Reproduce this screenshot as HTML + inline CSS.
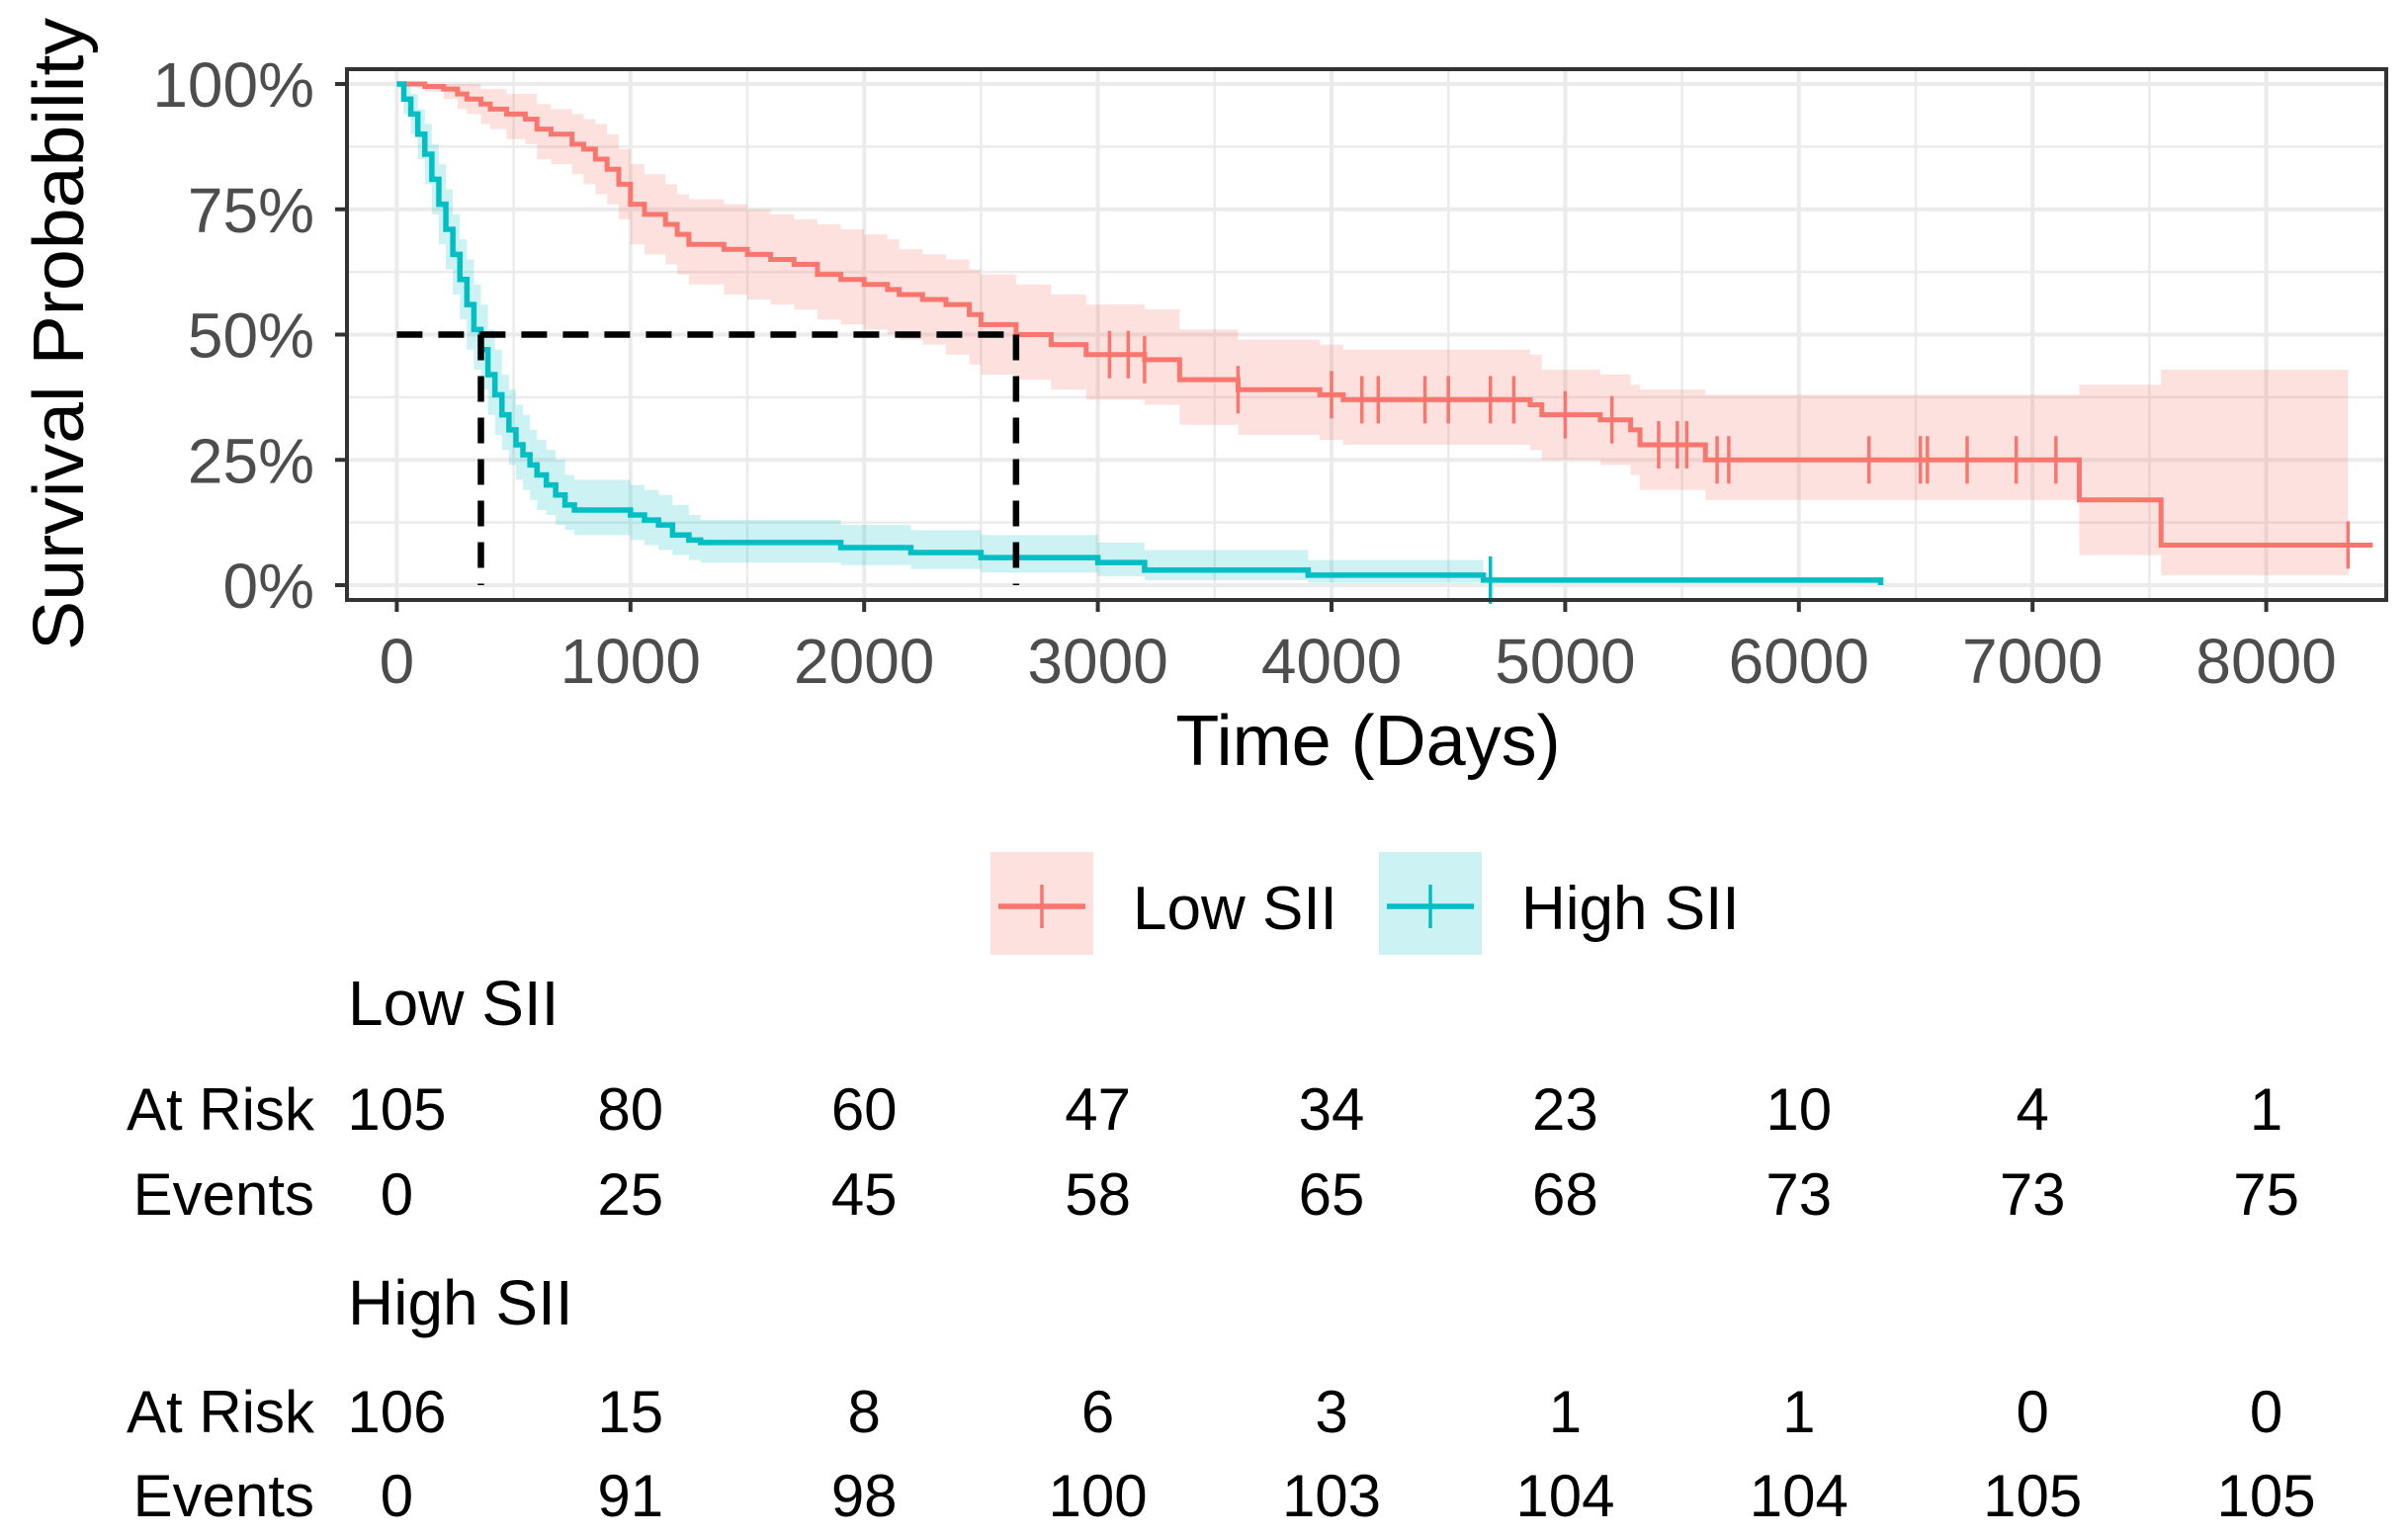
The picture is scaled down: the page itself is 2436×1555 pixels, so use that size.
<!DOCTYPE html>
<html><head><meta charset="utf-8"><style>
html,body{margin:0;padding:0;background:#fff}
svg{display:block;font-family:"Liberation Sans",Arial,sans-serif}
</style></head><body>
<svg id="chart" width="2436" height="1555" viewBox="0 0 2436 1555" xmlns="http://www.w3.org/2000/svg">
<g id="grid"></g>
<g id="bands"></g>
<g id="lines"></g>
<g id="axes"></g>
<g id="legend"></g>
<g id="table"></g>
</svg>
<script>
const xTicks = [0,1000,2000,3000,4000,5000,6000,7000,8000];
const yTicks = [0,0.25,0.5,0.75,1];
const yTickLabels = ["0%","25%","50%","75%","100%"];
const lowT  = [0,120,200,260,300,360,400,470,550,600,660,750,800,850,900,950,1000,1060,1150,1200,1250,1400,1500,1600,1700,1800,1900,2000,2100,2150,2250,2350,2450,2500,2650,2800,2950,3200,3350,3600,3950,4050,4850,4900,5150,5280,5320,5600,7200,7550,8350];
const lowS  = [1,0.995,0.99,0.98,0.97,0.96,0.95,0.94,0.93,0.91,0.90,0.88,0.87,0.85,0.83,0.80,0.76,0.74,0.72,0.70,0.68,0.67,0.66,0.65,0.64,0.62,0.61,0.60,0.59,0.58,0.57,0.56,0.54,0.52,0.50,0.48,0.46,0.45,0.41,0.39,0.38,0.37,0.36,0.34,0.33,0.31,0.28,0.25,0.17,0.08,0.08];
const lowLo = [1,0.985,0.97,0.95,0.94,0.92,0.91,0.89,0.88,0.85,0.84,0.82,0.80,0.78,0.76,0.73,0.68,0.66,0.64,0.62,0.60,0.58,0.57,0.56,0.55,0.53,0.52,0.51,0.50,0.49,0.48,0.46,0.44,0.42,0.41,0.39,0.37,0.36,0.32,0.30,0.29,0.28,0.27,0.25,0.24,0.22,0.19,0.17,0.06,0.02,0.02];
const lowHi = [1,1,1,1,1,0.99,0.99,0.98,0.98,0.96,0.95,0.94,0.93,0.92,0.90,0.87,0.84,0.82,0.80,0.78,0.77,0.76,0.75,0.74,0.73,0.72,0.71,0.70,0.69,0.67,0.66,0.65,0.63,0.62,0.60,0.58,0.56,0.55,0.51,0.49,0.48,0.47,0.46,0.43,0.42,0.40,0.39,0.38,0.40,0.43,0.43];
const lowCens = [3050,3130,3200,3600,4000,4130,4200,4400,4500,4680,4780,5000,5200,5400,5480,5520,5650,5700,6300,6520,6550,6720,6930,7100,8350];
const highT  = [0,30,60,90,120,150,180,210,240,270,300,330,360,390,420,450,480,510,540,570,600,640,680,720,760,1000,1060,1120,1180,1250,1300,1900,2200,2500,3000,3200,3900,4650,6350];
const highS  = [1,0.97,0.94,0.90,0.86,0.81,0.76,0.71,0.66,0.61,0.56,0.51,0.47,0.42,0.38,0.34,0.31,0.28,0.26,0.24,0.22,0.20,0.18,0.16,0.15,0.14,0.13,0.12,0.10,0.09,0.085,0.075,0.065,0.055,0.045,0.03,0.02,0.01,0.0];
const highLo = [1,0.94,0.90,0.85,0.80,0.74,0.68,0.63,0.58,0.53,0.47,0.43,0.39,0.34,0.30,0.27,0.24,0.21,0.19,0.17,0.15,0.14,0.12,0.11,0.10,0.09,0.08,0.07,0.06,0.05,0.045,0.04,0.032,0.025,0.018,0.01,0.005,0.0,0.0];
const highHi = [1,1,0.98,0.95,0.92,0.88,0.84,0.79,0.74,0.69,0.65,0.60,0.56,0.51,0.47,0.42,0.39,0.36,0.34,0.31,0.29,0.27,0.25,0.22,0.21,0.20,0.19,0.18,0.16,0.14,0.13,0.12,0.11,0.10,0.085,0.07,0.05,0.02,0.0];
const highCens = [4680];
const medians = [360,2650];
const lowRisk = [105,80,60,47,34,23,10,4,1];
const lowEvents = [0,25,45,58,65,68,73,73,75];
const highRisk = [106,15,8,6,3,1,1,0,0];
const highEvents = [0,91,98,100,103,104,104,105,105];

const NS="http://www.w3.org/2000/svg";
const PL=351, PR=2414, PT=70, PB=607;
const X0=401.4, XK=0.2364, Y0=592, Y1=85;
function sx(t){return X0+t*XK;}
function sy(p){return Y0-(Y0-Y1)*p;}
function mk(tag,attrs,parent){const e=document.createElementNS(NS,tag);for(const k in attrs)e.setAttribute(k,attrs[k]);parent.appendChild(e);return e;}
const grid=document.getElementById('grid'),bands=document.getElementById('bands'),lines=document.getElementById('lines'),axes=document.getElementById('axes'),legend=document.getElementById('legend'),table=document.getElementById('table');

mk('rect',{x:PL,y:PT,width:PR-PL,height:PB-PT,fill:'#fff'},grid);
for(let i=0;i<=16;i++){const t=i*500;const x=sx(t);if(x>PR)break;
 const g=mk('line',{x1:x,x2:x,y1:PT,y2:PB,stroke:'#ebebeb','stroke-width':i%2?2.5:4},grid);
 
 }
for(let i=0;i<=8;i++){const y=sy(i/8);
 const g=mk('line',{x1:PL,x2:PR,y1:y,y2:y,stroke:'#ebebeb','stroke-width':i%2?2.5:4},grid);
 
 }

function stepPath(T,S){let d='M'+sx(T[0])+','+sy(S[0]);for(let i=1;i<T.length;i++){d+='H'+sx(T[i])+'V'+sy(S[i]);}return d;}
function band(T,Lo,Hi,end){let up='M'+sx(T[0])+','+sy(Hi[0]);for(let i=1;i<T.length;i++){up+='H'+sx(T[i])+'V'+sy(Hi[i]);}
 up+='H'+sx(end);let d=up+'V'+sy(Lo[T.length-1]);for(let i=T.length-1;i>=1;i--){d+='H'+sx(T[i])+'V'+sy(Lo[i-1]);}d+='H'+sx(T[0])+'Z';return d;}

const b1=mk('path',{d:band(lowT.slice(0,-1),lowLo.slice(0,-1),lowHi.slice(0,-1),lowT[lowT.length-1]),fill:'#f8766d','fill-opacity':0.22},bands);


const b2=mk('path',{d:band(highT.slice(0,-1),highLo.slice(0,-1),highHi.slice(0,-1),highT[highT.length-2]),fill:'#00bfc4','fill-opacity':0.2},bands);



const l1=mk('path',{d:stepPath(lowT,lowS)+'H'+(sx(lowT[lowT.length-1])+25),fill:'none',stroke:'#f8766d','stroke-width':5},lines);


const l2=mk('path',{d:stepPath(highT,highS),fill:'none',stroke:'#00bfc4','stroke-width':5.5},lines);


function survAt(T,S,t){let s=S[0];for(let i=0;i<T.length;i++){if(T[i]<=t)s=S[i];}return s;}
lowCens.forEach(t=>{const y=sy(survAt(lowT,lowS,t));const c=mk('line',{x1:sx(t),x2:sx(t),y1:y-24,y2:y+24,stroke:'#f8766d','stroke-width':3.5},lines);
 
 });
highCens.forEach(t=>{const y=sy(survAt(highT,highS,t));const c=mk('line',{x1:sx(t),x2:sx(t),y1:y-24,y2:y+24,stroke:'#00bfc4','stroke-width':3.5},lines);
 
 });

const mh=mk('path',{d:'M'+sx(0)+','+sy(0.5)+'H'+sx(medians[1]),stroke:'#000','stroke-width':6.5,'stroke-dasharray':'26,16',fill:'none'},lines);


medians.forEach(m=>{const v=mk('path',{d:'M'+sx(m)+','+sy(0.5)+'V'+sy(0),stroke:'#000','stroke-width':6.5,'stroke-dasharray':'26,16',fill:'none'},lines);
 
 });

const frame=mk('rect',{x:PL,y:PT,width:PR-PL,height:PB-PT,fill:'none',stroke:'#333','stroke-width':4},axes);


xTicks.forEach(t=>{const x=sx(t);mk('line',{x1:x,x2:x,y1:PB,y2:PB+12,stroke:'#333','stroke-width':4},axes);
 const tx=mk('text',{x:x,y:691,'text-anchor':'middle','font-size':64,fill:'#4d4d4d'},axes);tx.textContent=t;
 
 });
yTicks.forEach((p,i)=>{const y=sy(p);mk('line',{x1:PL-12,x2:PL,y1:y,y2:y,stroke:'#333','stroke-width':4},axes);
 const tx=mk('text',{x:318,y:y+23,'text-anchor':'end','font-size':64,fill:'#4d4d4d'},axes);tx.textContent=yTickLabels[i];
 
 });
const xt=mk('text',{x:1384,y:774,'text-anchor':'middle','font-size':72,fill:'#000'},axes);xt.textContent='Time (Days)';


const yt=mk('text',{x:0,y:0,'text-anchor':'middle','font-size':72,fill:'#000',transform:'translate(84,338) rotate(-90)',textLength:640,lengthAdjust:'spacingAndGlyphs'},axes);yt.textContent='Survival Probability';



function legendItem(x,color,op,label,name){const g=mk('g',{},legend);
 
 
 mk('rect',{x:x,y:862,width:104,height:104,fill:color,'fill-opacity':op},g);
 mk('line',{x1:x+8,x2:x+96,y1:917,y2:917,stroke:color,'stroke-width':5.5},g);
 mk('line',{x1:x+52,x2:x+52,y1:895,y2:939,stroke:color,'stroke-width':3.5},g);
 const t=mk('text',{x:x+144,y:940,'font-size':62,fill:'#000'},g);t.textContent=label;}
legendItem(1002,'#f8766d',0.22,'Low SII','legend-entry-low-sii');
legendItem(1395,'#00bfc4',0.2,'High SII','legend-entry-high-sii');

function txt(x,y,s,anchor,name,fs){const t=mk('text',{x:x,y:y,'text-anchor':anchor,'font-size':fs||60,fill:'#000'},table);t.textContent=s;
 
 }
txt(352,1037,'Low SII','start','low-sii-table-title',64);
txt(318,1143,'At Risk','end','at-risk-label');
txt(318,1229,'Events','end','events-label');
txt(352,1340,'High SII','start','high-sii-table-title',64);
txt(318,1449,'At Risk','end','at-risk-label');
txt(318,1534,'Events','end','events-label');
xTicks.forEach((t,i)=>{const x=sx(t);
 txt(x,1143,lowRisk[i],'middle','low-at-risk-value');
 txt(x,1229,lowEvents[i],'middle','low-events-value');
 txt(x,1449,highRisk[i],'middle','high-at-risk-value');
 txt(x,1534,highEvents[i],'middle','high-events-value');});
</script>
</body></html>
